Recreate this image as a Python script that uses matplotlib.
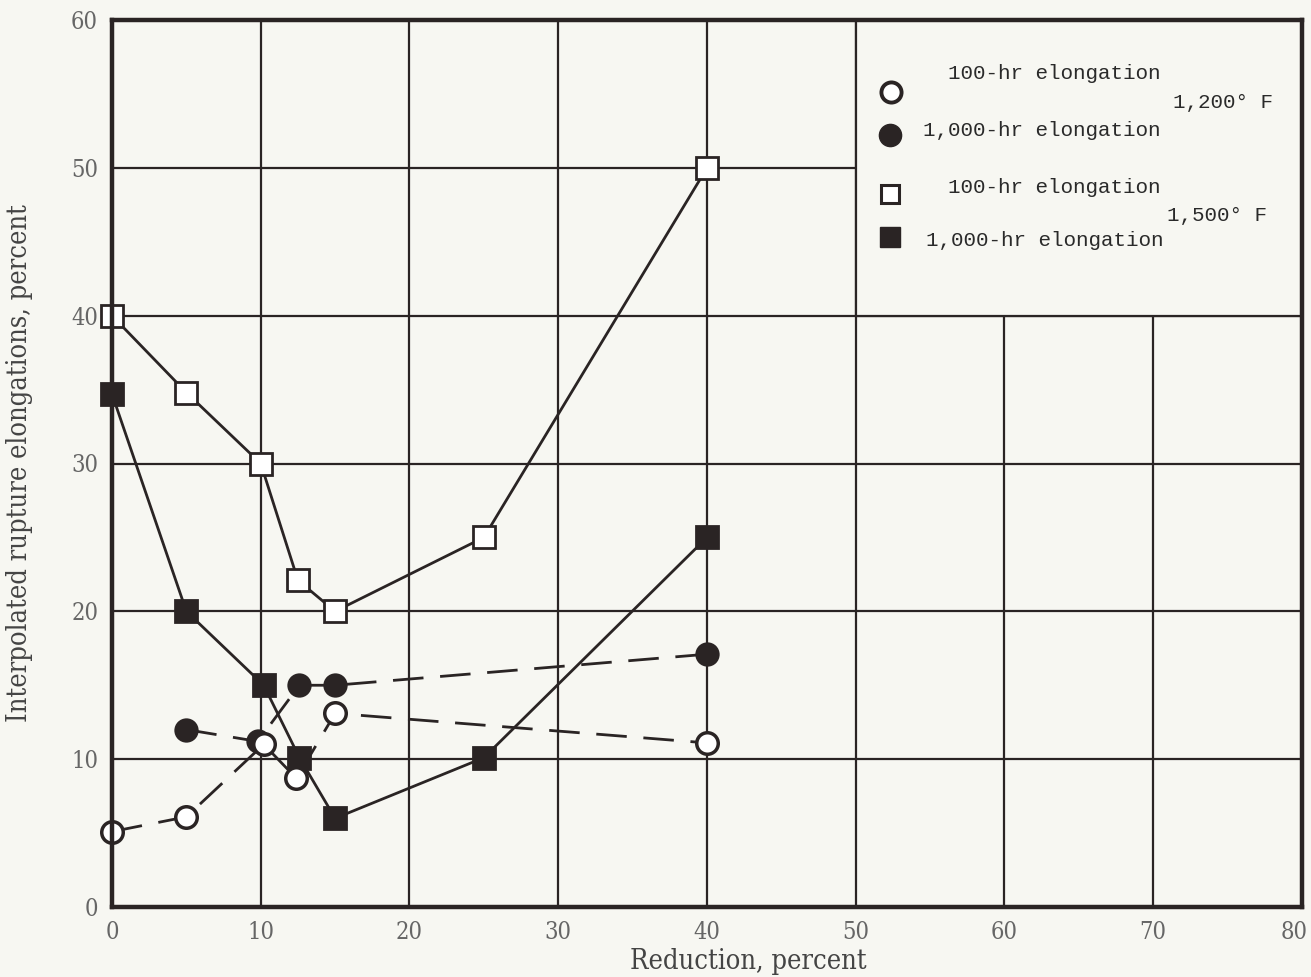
import matplotlib
matplotlib.use("Agg")
import matplotlib.pyplot as plt
import matplotlib.transforms as mtransforms
from matplotlib.patches import Rectangle

# 1,200 F, 100-hr elongation (open circles)
oc_x = [0, 5, 10.2, 12.4, 15, 40]
oc_y = [5.1, 6.1, 11.0, 8.7, 13.1, 11.1]
# 1,200 F, 1,000-hr elongation (filled circles)
fc_x = [5, 9.8, 12.6, 15, 40]
fc_y = [12.0, 11.2, 15.0, 15.0, 17.1]
# 1,500 F, 100-hr elongation (open squares)
os_x = [0, 5, 10, 12.5, 15, 25, 40]
os_y = [40, 34.8, 30, 22.1, 20.0, 25, 50]
# 1,500 F, 1,000-hr elongation (filled squares)
fs_x = [0, 5, 10.2, 12.6, 15, 25, 40]
fs_y = [34.7, 20, 15.0, 10.1, 6.0, 10.1, 25]

x_ticks = [0, 10, 20, 30, 40, 50, 60, 70, 80]
y_ticks = [0, 10, 20, 30, 40, 50, 60]

BG = "#f7f7f2"
INK = "#2a2424"

fig = plt.figure(figsize=(13.11, 9.77), dpi=100, facecolor=BG)
ax = fig.add_axes([112/1311, 70/977, 1190/1311, 887/977], facecolor=BG)
ax.set_xlim(0, 80)
ax.set_ylim(0, 60)
ax.set_xticks(x_ticks)
ax.set_yticks(y_ticks)
ax.grid(True, color=INK, linewidth=1.6, zorder=0.5)
ax.set_axisbelow(True)
for s in ax.spines.values():
    s.set_linewidth(3.2)
    s.set_color(INK)
    s.set_zorder(5)

ax.tick_params(length=0, pad=10)
for lab in ax.get_xticklabels() + ax.get_yticklabels():
    lab.set_fontfamily("DejaVu Serif")
    lab.set_fontstretch("condensed")
    lab.set_fontsize(17)
    lab.set_color("#666666")
# keep the last x label inside the figure
last = ax.get_xticklabels()[-1]
last.set_transform(last.get_transform() + mtransforms.ScaledTranslation(-8/100, 0, fig.dpi_scale_trans))

ax.set_xlabel("Reduction, percent", fontfamily="DejaVu Serif", fontstretch="condensed",
              fontsize=19.5, color="#444444")
ax.xaxis.set_label_coords((748-112)/1190, -0.046)
ax.set_ylabel("Interpolated rupture elongations, percent", fontfamily="DejaVu Serif",
              fontstretch="condensed", fontsize=19.5, color="#444444")
ax.yaxis.set_label_coords(-0.066, 0.5)

# legend box (blank area without grid)
ax.add_patch(Rectangle((50, 40), 30, 20, facecolor=BG, edgecolor=INK, linewidth=1.6, zorder=1))

lw = 2.0
ms_c = 15.5
ms_s = 16
ax.plot(os_x, os_y, '-', color=INK, lw=lw, marker='s', ms=ms_s, mfc="white",
        mec=INK, mew=2.0, zorder=3, clip_on=False)
ax.plot(fs_x, fs_y, '-', color=INK, lw=lw, marker='s', ms=ms_s, mfc=INK,
        mec=INK, mew=2.0, zorder=3, clip_on=False)
ax.plot(fc_x, fc_y, '-', color=INK, lw=lw, dashes=(11, 6), marker='o', ms=ms_c, mfc=INK,
        mec=INK, mew=2.0, zorder=3, clip_on=False)
ax.plot(oc_x, oc_y, '-', color=INK, lw=lw, dashes=(11, 6), marker='o', ms=ms_c, mfc="white",
        mec=INK, mew=2.5, zorder=4, clip_on=False)

# legend content
ax.plot([52.4], [55.1], 'o', ms=14.5, mfc="white", mec=INK, mew=2.8, zorder=3)
ax.plot([52.3], [52.2], 'o', ms=16, mfc=INK, mec=INK, zorder=3)
ax.plot([52.3], [48.2], 's', ms=13, mfc="white", mec=INK, mew=2.2, zorder=3)
ax.plot([52.3], [45.3], 's', ms=14, mfc=INK, mec=INK, zorder=3)

lf = dict(family="Liberation Mono", size=15, color="#2a2a2a", va="center", ha="left", zorder=4)
ax.text(56.2, 56.4, "100-hr elongation", **lf)
ax.text(54.5, 52.5, "1,000-hr elongation", **lf)
ax.text(71.3, 54.4, "1,200° F", **lf)
ax.text(56.2, 48.7, "100-hr elongation", **lf)
ax.text(70.9, 46.8, "1,500° F", **lf)
ax.text(54.7, 45.1, "1,000-hr elongation", **lf)

fig.savefig("out.png", dpi=100, facecolor=BG)
